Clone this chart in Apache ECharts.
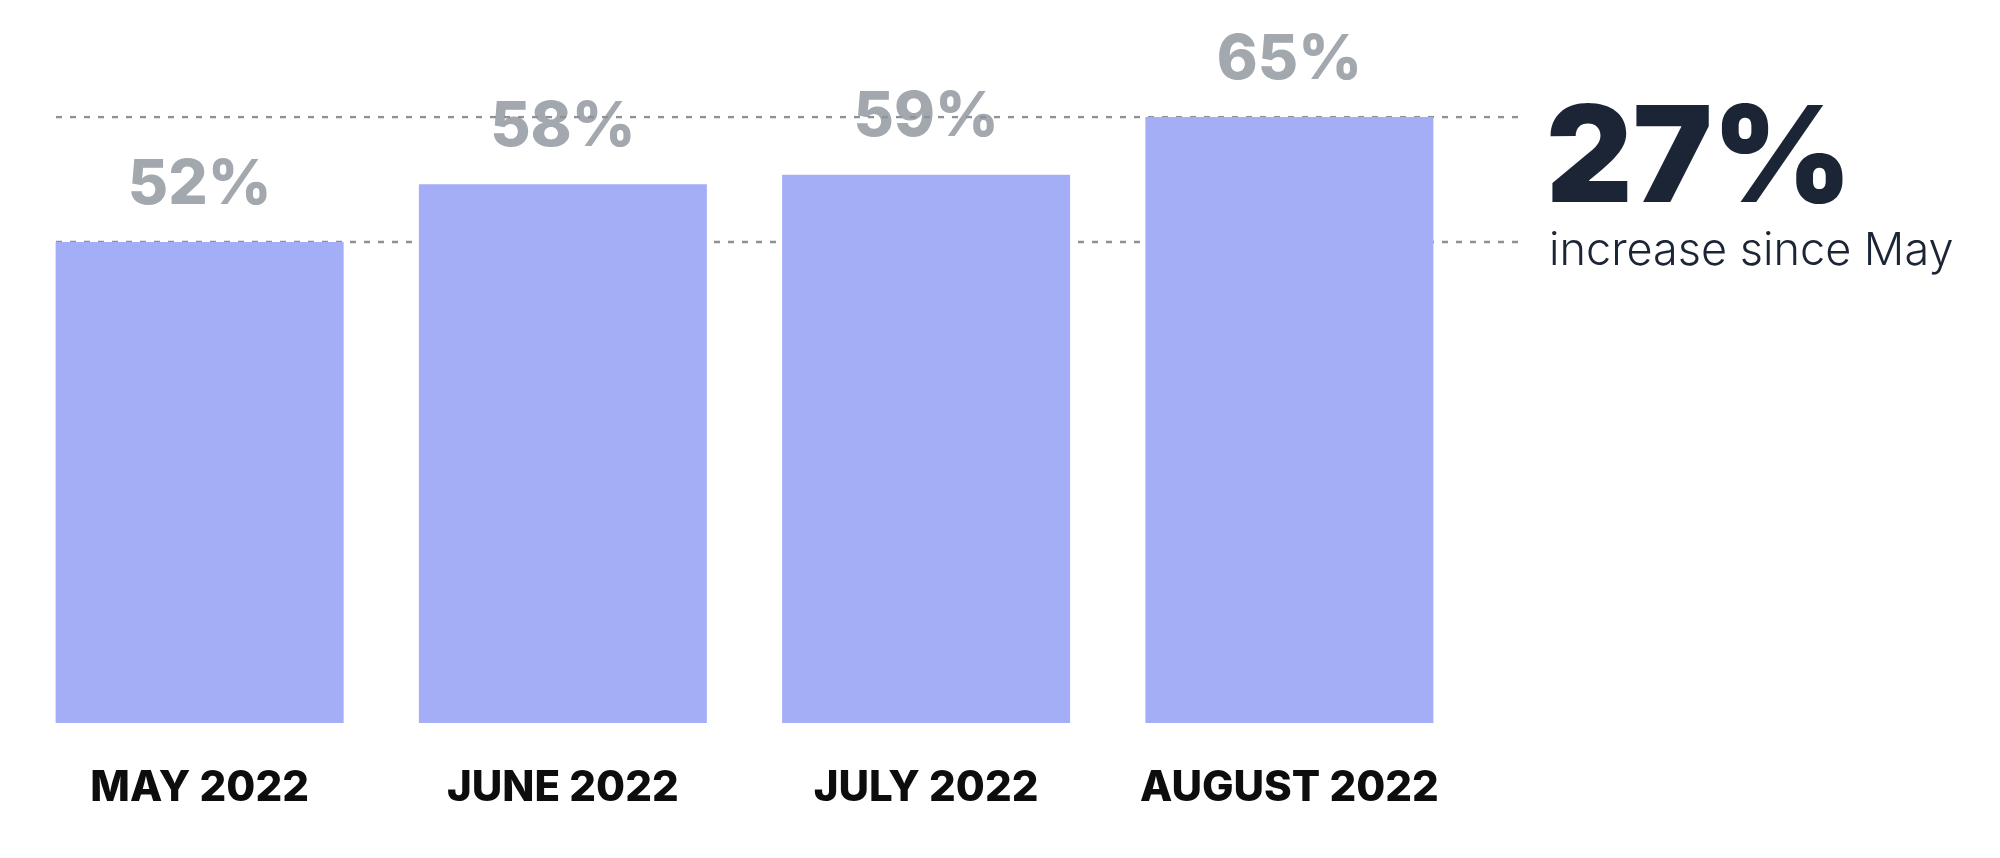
<!DOCTYPE html>
<html>
<head>
<meta charset="utf-8">
<script src="https://cdn.jsdelivr.net/npm/echarts@6/dist/echarts.min.js"></script>
<style>
html,body{margin:0;padding:0;background:#fff;}
#chart{width:2000px;height:858px;}
</style>
</head>
<body>
<div id="chart"></div>
<script>
const categories = ['MAY 2022', 'JUNE 2022', 'JULY 2022', 'AUGUST 2022'];
const values = [52, 58, 59, 65];
const refLines = [52, 65];
const yMin = 2;
const yMax = 65;
const headline = '27%';
const subline = 'increase since May';

const BAR_COLOR = '#a3aef7';
const LABEL_GRAY = '#a3a7ae';
const DARK = '#1c2536';

const chart = echarts.init(document.getElementById('chart'), null, {renderer: 'canvas'});

const lineSeries = refLines.map(v => ({
  type: 'line',
  xAxisIndex: 1,
  yAxisIndex: 1,
  data: [[0, v], [1, v]],
  symbol: 'none',
  silent: true,
  z: 2,
  lineStyle: {color: '#8e9298', width: 2.5, type: [6, 8]}
}));

chart.setOption({
  backgroundColor: '#ffffff',
  animation: false,
  grid: [
    {left: 18, right: 529, top: 117, bottom: 135},
    {left: 56, right: 482, top: 117, bottom: 135}
  ],
  xAxis: [
    {
      type: 'category', gridIndex: 0, data: categories,
      axisLine: {show: false}, axisTick: {show: false},
      axisLabel: {
        interval: 0, margin: 44, color: '#0d0d0d', fontFamily: 'Inter', fontWeight: 800, fontSize: 42
      }
    },
    {type: 'value', gridIndex: 1, min: 0, max: 1, show: false}
  ],
  yAxis: [
    {type: 'value', gridIndex: 0, min: yMin, max: yMax, show: false, splitLine: {show: false}},
    {type: 'value', gridIndex: 1, min: yMin, max: yMax, show: false, splitLine: {show: false}}
  ],
  series: [
    {
      type: 'bar', name: 'labels', data: values, barWidth: 288, z: 1, silent: true,
      itemStyle: {color: 'rgba(0,0,0,0)'},
      label: {
        show: true, position: 'top', distance: 26,
        formatter: p => p.value + '%',
        color: LABEL_GRAY, fontFamily: 'Inter', fontWeight: 800, fontSize: 62
      }
    },
    ...lineSeries,
    {
      type: 'bar', name: 'bars', data: values, barWidth: 288, barGap: '-100%', z: 3,
      itemStyle: {color: BAR_COLOR}
    }
  ],
  graphic: [
    {
      type: 'text', left: 1546, top: 95,
      style: {text: headline, fill: DARK, font: '900 134px Inter'}
    },
    {
      type: 'text', left: 1549, top: 229,
      style: {text: subline, fill: DARK, font: '300 45px Inter'}
    }
  ]
});
</script>
</body>
</html>
